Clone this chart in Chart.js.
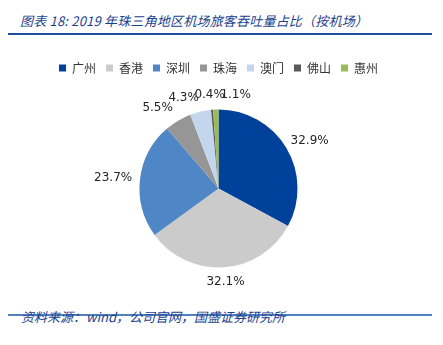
<!DOCTYPE html>
<html>
<head>
<meta charset="utf-8">
<script src="https://cdn.jsdelivr.net/npm/chart.js@4/dist/chart.umd.min.js"></script>
<style>
  html, body { margin: 0; padding: 0; background: #fff; }
  #wrap { position: relative; width: 443px; height: 345px; overflow: hidden; }
  .title {
    position: absolute; left: 20px; top: 12px;
    font: italic 13px "Noto Sans CJK SC", sans-serif; color: #1c3f8e;
    white-space: nowrap; line-height: 18px; letter-spacing: 0.2px;
  }
  .rule-top { position: absolute; left: 8px; width: 424px; top: 33px; height: 2px; background: #1f4e9a; }
  .rule-bottom { position: absolute; left: 8px; width: 424px; top: 314px; height: 1.5px; background: #4f81bd; }
  .source {
    position: absolute; left: 21px; top: 308px;
    font: italic 13px "Noto Sans CJK SC", sans-serif; color: #1c3f8e;
    white-space: nowrap; line-height: 18px;
  }
  #chart-box { position: absolute; left: 0; top: 52px; width: 443px; height: 255px; }
</style>
</head>
<body>
<div id="wrap">
  <div class="title">图表 18:  2019 年珠三角地区机场旅客吞吐量占比（按机场）</div>
  <div class="rule-top"></div>
  <div id="chart-box"><canvas id="share-chart"></canvas></div>
  <div class="rule-bottom"></div>
  <div class="source">资料来源：wind，公司官网，国盛证券研究所</div>
</div>
<script>
// airports and their share of passenger throughput (%)
const airports = ['广州', '香港', '深圳', '珠海', '澳门', '佛山', '惠州'];
const shares = [32.9, 32.1, 23.7, 5.5, 4.3, 0.4, 1.1];
const sliceColors = ['#00429b', '#cbcbcb', '#4f86c6', '#969696', '#c3d6ee', '#595959', '#9bbb59'];

// percentage labels just outside each slice, nudged apart where they collide
const outsideLabels = {
  id: 'outsideLabels',
  afterDatasetsDraw(chart) {
    const ctx = chart.ctx;
    const arcs = chart.getDatasetMeta(0).data;
    ctx.save();
    ctx.font = '12px "DejaVu Sans", sans-serif';
    ctx.fillStyle = '#262626';
    ctx.textAlign = 'center';
    ctx.textBaseline = 'middle';
    const h = 13;
    const items = arcs.map((arc, i) => {
      const mid = (arc.startAngle + arc.endAngle) / 2;
      const dx = Math.cos(mid), dy = Math.sin(mid);
      const text = shares[i].toFixed(1) + '%';
      const w = ctx.measureText(text).width;
      const r = arc.outerRadius + 8;
      return {
        text, w,
        x: arc.x + dx * r + dx * w / 2,
        y: arc.y + dy * r + dy * h / 2
      };
    });
    // spread overlapping labels sideways
    const sorted = items.slice().sort((a, b) => a.x - b.x);
    const gap = 26;
    let cluster = [sorted[0]];
    const clusters = [];
    for (let i = 1; i < sorted.length; i++) {
      const prev = cluster[cluster.length - 1];
      if (Math.abs(sorted[i].y - prev.y) < 16 && sorted[i].x - prev.x < 32) {
        cluster.push(sorted[i]);
      } else {
        clusters.push(cluster);
        cluster = [sorted[i]];
      }
    }
    clusters.push(cluster);
    clusters.forEach(c => {
      if (c.length < 2) return;
      const mean = c.reduce((s, it) => s + it.x, 0) / c.length;
      c.forEach((it, k) => { it.x = mean + (k - (c.length - 1) / 2) * gap; });
    });
    items.forEach(it => ctx.fillText(it.text, it.x, it.y));
    ctx.restore();
  }
};

const ctx = document.getElementById('share-chart').getContext('2d');
new Chart(ctx, {
  type: 'pie',
  data: {
    labels: airports,
    datasets: [{
      data: shares,
      backgroundColor: sliceColors,
      borderWidth: 0,
      radius: 79
    }]
  },
  options: {
    responsive: true,
    maintainAspectRatio: false,
    animation: false,
    layout: { padding: { top: 0, bottom: 14, left: 0, right: 6 } },
    plugins: {
      legend: {
        position: 'top',
        labels: {
          boxWidth: 7,
          boxHeight: 7,
          padding: 10,
          color: '#333',
          font: { family: '"Noto Sans CJK SC", sans-serif', size: 12 }
        }
      },
      tooltip: { enabled: false }
    }
  },
  plugins: [outsideLabels]
});
</script>
</body>
</html>
